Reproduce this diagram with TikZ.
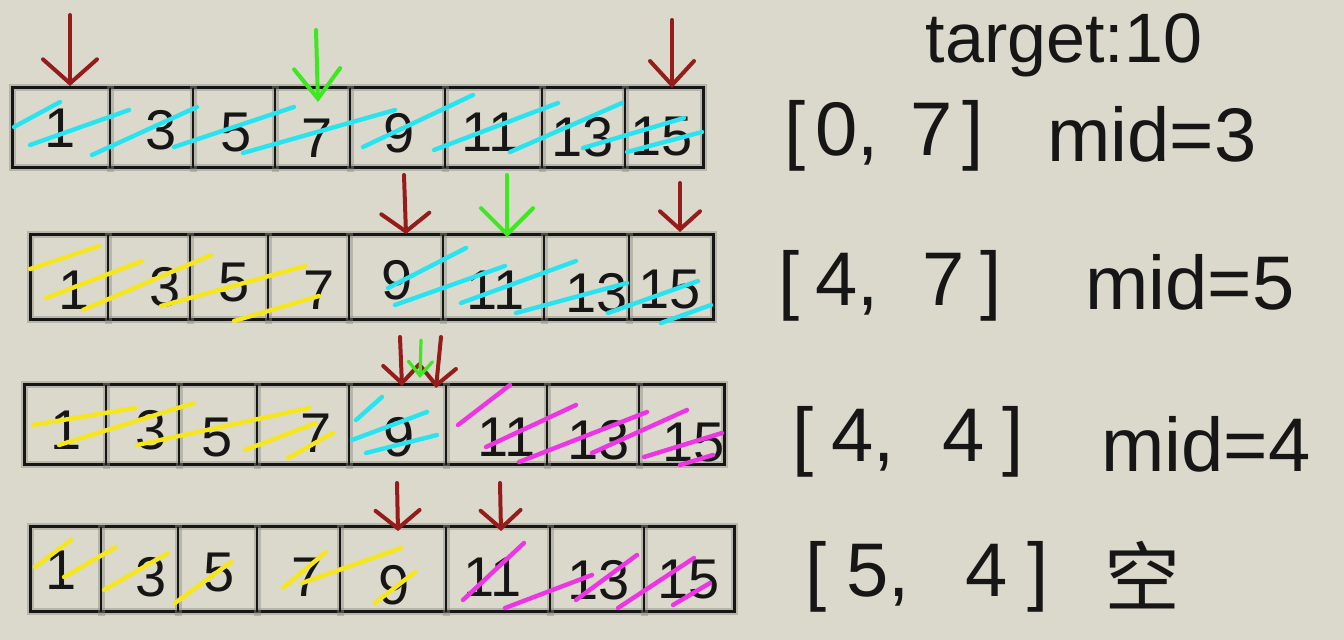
\documentclass[tikz,border=0pt]{standalone}
\usepackage{fontspec}
\setmainfont{Liberation Sans}
\newfontfamily\cjkfont{Noto Sans CJK SC}
\usetikzlibrary{arrows.meta}
\definecolor{bg}{RGB}{218,217,203}
\definecolor{pen}{RGB}{22,22,22}
\definecolor{halo}{RGB}{140,140,130}
\definecolor{cy}{RGB}{40,228,240}
\definecolor{ye}{RGB}{246,230,30}
\definecolor{mg}{RGB}{238,52,228}
\definecolor{rd}{RGB}{150,28,28}
\definecolor{gr}{RGB}{60,232,30}
\newcommand\brk[4]{[\hspace{#1}#2,\hspace{#3}#4\hspace{#1}]}
\begin{document}
\begin{tikzpicture}[x=0.5pt,y=-0.5pt,
  haloline/.style={draw=halo,line width=3.5pt,opacity=0.45},
  boxline/.style={draw=pen,line width=1.5pt},
  divline/.style={draw=pen,line width=1.3pt},
  digit/.style={font=\fontsize{28}{30}\selectfont,text=pen,inner sep=0pt},
  label/.style={font=\fontsize{38}{40}\selectfont,text=pen,inner sep=0pt,anchor=center},
  cystroke/.style={draw=cy,line width=2.2pt,line cap=round},
  yestroke/.style={draw=ye,line width=2.2pt,line cap=round},
  mgstroke/.style={draw=mg,line width=2.2pt,line cap=round},
  redarrow/.style={draw=rd,line width=2pt,line cap=round,-{Straight Barb[length=9pt,width=24pt,line cap=round]}},
  greenarrow/.style={draw=gr,line width=2pt,line cap=round,-{Straight Barb[length=9pt,width=24pt,line cap=round]}}
]
\fill[bg] (0,0) rectangle (1344,640);
\useasboundingbox (0,0) rectangle (1344,640);

% ---------- row 1 ----------
\draw[haloline] (12,88) rectangle (703,168);
\draw[boxline] (12,88) rectangle (703,168);
\foreach \x in {110,193,275,350,445,542,625}{
  \draw[haloline] (\x,86) -- (\x,172);
  \draw[divline] (\x,88) -- (\x,168);}
\foreach \x/\y/\t [count=\i] in {60/128/1,161/130/3,236/133/5,317/138/7,399/133/9,491/132/11,583/137/13,662/137/15}
  \node[digit] (ra\i) at (\x,\y) {\t};
\draw[cystroke] (14,127)--(60,102);
\draw[cystroke] (30,145)--(129,110);
\draw[cystroke] (92,155)--(197,107);
\draw[cystroke] (174,147)--(294,107);
\draw[cystroke] (243,153)--(395,110);
\draw[cystroke] (363,147)--(473,95);
\draw[cystroke] (434,150)--(558,103);
\draw[cystroke] (510,152)--(622,103);
\draw[cystroke] (583,148)--(684,118);
\draw[cystroke] (627,152)--(702,132);

% ---------- row 2 ----------
\draw[haloline] (30,235) rectangle (713,320);
\draw[boxline] (30,235) rectangle (713,320);
\foreach \x in {108,190,268,349,443,544,629}{
  \draw[haloline] (\x,233) -- (\x,324);
  \draw[divline] (\x,235) -- (\x,320);}
\foreach \x/\y/\t [count=\i] in {74/290/1,165/287/3,234/283/5,319/290/7,397/280/9,496/290/11,597/293/13,670/290/15}
  \node[digit] (rb\i) at (\x,\y) {\t};
\draw[yestroke] (30,269)--(99,246);
\draw[yestroke] (46,298)--(142,261);
\draw[yestroke] (83,310)--(211,255);
\draw[yestroke] (161,306)--(305,266);
\draw[yestroke] (234,321)--(319,296);
\draw[cystroke] (388,288)--(466,248);
\draw[cystroke] (395,305)--(505,266);
\draw[cystroke] (461,303)--(576,261);
\draw[cystroke] (516,313)--(627,283);
\draw[cystroke] (608,313)--(698,281);
\draw[cystroke] (661,323)--(711,305);

% ---------- row 3 ----------
\draw[haloline] (24,385) rectangle (724,465);
\draw[boxline] (24,385) rectangle (724,465);
\foreach \x in {106,179,257,349,446,547,639}{
  \draw[haloline] (\x,383) -- (\x,469);
  \draw[divline] (\x,385) -- (\x,465);}
\foreach \x/\y/\t [count=\i] in {66/430/1,151/430/3,217/438/5,316/433/7,399/437/9,507/437/11,599/440/13,694/443/15}
  \node[digit] (rc\i) at (\x,\y) {\t};
\draw[yestroke] (33,425)--(135,408);
\draw[yestroke] (59,445)--(194,403);
\draw[yestroke] (137,445)--(309,408);
\draw[yestroke] (245,450)--(316,423);
\draw[yestroke] (288,458)--(333,433);
\draw[cystroke] (356,420)--(382,397);
\draw[cystroke] (352,440)--(427,412);
\draw[cystroke] (366,453)--(437,435);
\draw[mgstroke] (458,425)--(510,385);
\draw[mgstroke] (486,447)--(576,405);
\draw[mgstroke] (519,462)--(647,412);
\draw[mgstroke] (592,453)--(687,410);
\draw[mgstroke] (644,457)--(722,433);
\draw[mgstroke] (680,465)--(713,455);

% ---------- row 4 ----------
\draw[haloline] (30,527) rectangle (734,612);
\draw[boxline] (30,527) rectangle (734,612);
\foreach \x in {101,178,257,340,446,550,644}{
  \draw[haloline] (\x,525) -- (\x,616);
  \draw[divline] (\x,527) -- (\x,612);}
\foreach \x/\y/\t [count=\i] in {61/570/1,151/577/3,219/573/5,307/577/7,394/585/9,493/577/11,599/580/13,689/580/15}
  \node[digit] (rd\i) at (\x,\y) {\t};
\draw[yestroke] (35,567)--(71,540);
\draw[yestroke] (64,577)--(116,547);
\draw[yestroke] (104,590)--(168,553);
\draw[yestroke] (175,603)--(231,562);
\draw[yestroke] (283,588)--(326,552);
\draw[yestroke] (302,583)--(401,548);
\draw[yestroke] (375,603)--(415,572);
\draw[mgstroke] (463,600)--(524,543);
\draw[mgstroke] (505,608)--(592,575);
\draw[mgstroke] (576,600)--(637,555);
\draw[mgstroke] (618,608)--(694,558);
\draw[mgstroke] (673,605)--(710,583);

% ---------- arrows ----------
\coordinate (a1s) at (70,15);  \coordinate (a1e) at (70,86);
\coordinate (a2s) at (316,30); \coordinate (a2e) at (318,102);
\coordinate (a3s) at (672,20); \coordinate (a3e) at (672,88);
\draw[redarrow,-{Straight Barb[length=12pt,width=27pt,line cap=round]}] (a1s) -- (a1e);
\draw[greenarrow,-{Straight Barb[length=15pt,width=23pt,line cap=round]}] (a2s) -- (a2e);
\draw[redarrow,-{Straight Barb[length=12pt,width=22pt,line cap=round]}] (a3s) -- (a3e);

\coordinate (b1s) at (404,175); \coordinate (b1e) at (406,234);
\coordinate (b2s) at (507,175); \coordinate (b2e) at (507,237);
\coordinate (b3s) at (680,183); \coordinate (b3e) at (680,232);
\draw[redarrow] (b1s) -- (b1e);
\draw[greenarrow,-{Straight Barb[length=13pt,width=26pt,line cap=round]}] (b2s) -- (b2e);
\draw[redarrow,-{Straight Barb[length=9pt,width=20pt,line cap=round]}] (b3s) -- (b3e);

\coordinate (c1s) at (400,337); \coordinate (c1e) at (402,386);
\coordinate (c2s) at (421,340); \coordinate (c2e) at (420,378);
\coordinate (c3s) at (441,337); \coordinate (c3e) at (436,388);
\draw[redarrow,-{Straight Barb[length=9pt,width=18pt,line cap=round]}] (c1s) -- (c1e);
\draw[redarrow,-{Straight Barb[length=9pt,width=18pt,line cap=round]}] (c3s) -- (c3e);
\draw[greenarrow,line width=1.6pt,-{Straight Barb[length=7pt,width=12pt,line cap=round]}] (c2s) -- (c2e);

\coordinate (d1s) at (397,483); \coordinate (d1e) at (398,531);
\coordinate (d2s) at (500,483); \coordinate (d2e) at (501,531);
\draw[redarrow,-{Straight Barb[length=9pt,width=22pt,line cap=round]}] (d1s) -- (d1e);
\draw[redarrow,-{Straight Barb[length=9pt,width=20pt,line cap=round]}] (d2s) -- (d2e);

% ---------- labels ----------
\node[label,font=\fontsize{35}{37}\selectfont] (tgt) at (1064,45) {target:10};
\node[label] (l1) at (884,136) {\brk{5pt}{0}{16pt}{7}};
\node[label] (m1) at (1152,134) {mid=3};
\node[label] (l2) at (890,286) {\brk{8pt}{4}{22pt}{7}};
\node[label] (m2) at (1190,282) {mid=5};
\node[label] (l3) at (908,442) {\brk{9pt}{4}{24pt}{4}};
\node[label] (m3) at (1206,444) {mid=4};
\node[label] (l4) at (927,577) {\brk{10pt}{5}{28pt}{4}};
\node[label,font=\cjkfont\fontsize{38}{40}\selectfont] (k4) at (1142,575) {空};
\end{tikzpicture}
\end{document}
